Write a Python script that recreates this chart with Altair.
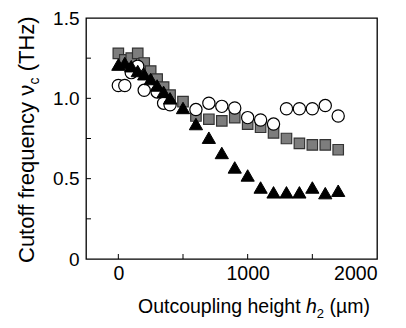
import altair as alt
import pandas as pd

# ---- data ----
sq_x = [0, 50, 100, 150, 200, 250, 300, 350, 400, 500, 600, 700, 800, 900, 1000, 1100, 1200, 1300, 1400, 1500, 1600, 1700]
sq_y = [1.28, 1.24, 1.25, 1.28, 1.22, 1.17, 1.12, 1.07, 1.02, 0.98, 0.89, 0.87, 0.86, 0.88, 0.84, 0.82, 0.785, 0.75, 0.72, 0.71, 0.71, 0.68]

ci_x = [0, 50, 100, 150, 200, 300, 350, 400, 600, 700, 800, 900, 1000, 1100, 1200, 1300, 1400, 1500, 1600, 1700]
ci_y = [1.08, 1.08, 1.16, 1.20, 1.05, 1.04, 0.97, 0.96, 0.93, 0.97, 0.95, 0.94, 0.88, 0.865, 0.84, 0.935, 0.935, 0.935, 0.955, 0.89]

tr_x = [0, 50, 100, 150, 200, 250, 300, 350, 400, 500, 600, 700, 800, 900, 1000, 1100, 1200, 1300, 1400, 1500, 1600, 1700]
tr_y = [1.21, 1.22, 1.20, 1.17, 1.15, 1.12, 1.08, 1.04, 1.00, 0.94, 0.84, 0.755, 0.66, 0.57, 0.52, 0.445, 0.415, 0.415, 0.415, 0.445, 0.41, 0.425]

x_labels = [0, 1000, 2000]
x_ticks = [0, 500, 1000, 1500]
y_labels = [0, 0.5, 1.0, 1.5]
y_ticks = [0.25, 0.5, 0.75, 1.0, 1.25]

FONT = "Liberation Sans"
W, H = 291, 241

xscale = alt.Scale(domain=[-250, 2000], nice=False, zero=False)
yscale = alt.Scale(domain=[0, 1.5], nice=False, zero=False)

XA = alt.Axis(values=x_labels, ticks=False, domain=False, grid=False, title=None, format="d",
              labelFont=FONT, labelFontSize=19.5, labelColor="black", labelPadding=5)
YA = alt.Axis(values=y_labels, ticks=False, domain=False, grid=False, title=None,
              labelFont=FONT, labelFontSize=19, labelColor="black", labelPadding=7,
              labelExpr="datum.value == 0 ? '0' : format(datum.value, '.1f')")


def series(xs, ys, shape, size, fill, stroke, sw):
    df = pd.DataFrame({"h": xs, "v": ys})
    return alt.Chart(df).mark_point(
        shape=shape, size=size, filled=True, fill=fill, stroke=stroke,
        strokeWidth=sw, opacity=1
    ).encode(
        x=alt.X("h:Q", scale=xscale, axis=XA),
        y=alt.Y("v:Q", scale=yscale, axis=YA),
    )


squares = series(sq_x, sq_y, "square", 110, "#7d7d7d", "#333333", 1.2)
circles = series(ci_x, ci_y, "circle", 150, "white", "black", 1.2)
triangles = series(tr_x, tr_y, "triangle-up", 175, "black", "black", 1)

xt = alt.Chart(pd.DataFrame({"h": x_ticks})).mark_rule(color="black", strokeWidth=1).encode(
    x=alt.X("h:Q", scale=xscale, axis=XA), y=alt.value(H), y2=alt.value(H - 5))
yt = alt.Chart(pd.DataFrame({"v": y_ticks})).mark_rule(color="black", strokeWidth=1).encode(
    y=alt.Y("v:Q", scale=yscale, axis=YA), x=alt.value(0), x2=alt.value(5))


def txt(s, x, y, size, angle=0, style="normal", align="left"):
    return alt.Chart(pd.DataFrame({"t": [s]})).mark_text(
        font=FONT, fontSize=size, fontStyle=style, align=align, baseline="alphabetic",
        angle=angle, color="black"
    ).encode(text="t:N", x=alt.value(x), y=alt.value(y))


# x title pieces: "Outcoupling height h2 (µm)"
XS = 19.5
xb = 295
x0 = 52
w1 = 8.616 * XS
w2 = 0.556 * XS
w3 = 0.556 * 13
sp = 0.278 * XS
xt1 = txt("Outcoupling height", x0, xb, XS)
xt2 = txt("h", x0 + w1, xb, XS, style="italic")
xt3 = txt("2", x0 + w1 + w2, xb + 5, 13)
xt4 = txt("(µm)", x0 + w1 + w2 + w3 + sp, xb, XS)

# y title pieces: "Cutoff frequency νc (THz)", rotated
YS = 22
yb = -52
y0 = 245
v1 = 8.115 * YS
v2 = 0.5 * 14
ysp = 0.278 * YS
yt1 = txt("Cutoff frequency ν", yb, y0, YS, angle=270)
yt2 = txt("c", yb + 5, y0 - v1, 14, angle=270)
yt3 = txt("(THz)", yb, y0 - v1 - v2 - ysp, YS, angle=270)

chart = alt.layer(
    squares, circles, triangles, xt, yt,
    xt1, xt2, xt3, xt4, yt1, yt2, yt3
).properties(
    width=W, height=H,
    autosize=alt.AutoSizeParams(type="none"),
    padding={"left": 78, "top": 10, "right": 21, "bottom": 61},
).configure_view(stroke="black", strokeWidth=1.3)

chart.save("out.html", embed_options={"renderer": "svg", "actions": False})
